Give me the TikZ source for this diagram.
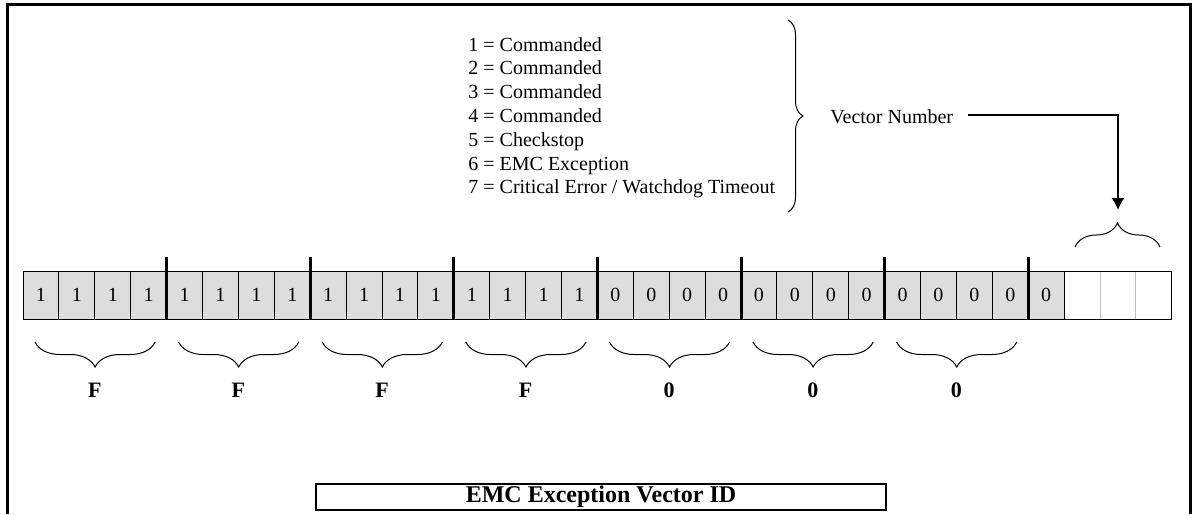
\documentclass[tikz,border=0pt]{standalone}
\usepackage{fontspec}
\setmainfont{Liberation Serif}
\usetikzlibrary{decorations.pathreplacing,arrows.meta}
\definecolor{cellgray}{RGB}{221,221,221}
\definecolor{divgray}{RGB}{190,190,190}
\begin{document}
\begin{tikzpicture}[x=0.5pt,y=-0.5pt,
  frame/.style={line width=1.5pt},
  txt/.style={font=\fontsize{10}{12}\selectfont, inner sep=0pt},
  brc/.style={decorate, line width=0.5pt},
  cell/.style={draw, line width=0.5pt, fill=cellgray, minimum width=17.95pt, minimum height=24pt, inner sep=0pt, outer sep=0pt, font=\fontsize{10}{12}\selectfont},
  ecell/.style={draw=divgray, line width=0.5pt, fill=white, minimum width=17.95pt, minimum height=24pt, inner sep=0pt, outer sep=0pt},
  sepline/.style={line width=1.5pt},
  lbl/.style={font=\fontsize{11}{13}\selectfont\bfseries, inner sep=0pt},
  arr/.style={line width=0.8pt, -{Latex[length=6pt,width=6.5pt]}},
  titlebox/.style={draw, line width=0.75pt, minimum width=285pt, minimum height=13pt, inner sep=0pt, font=\fontsize{12}{14}\selectfont\bfseries}
]
\useasboundingbox (0,0) rectangle (1197,514);
% outer frame (open at the bottom)
\draw[frame] (7,514) -- (7,4) -- (1190,4) -- (1190,514);

% vector code list
\foreach \t [count=\i] in {1 = Commanded, 2 = Commanded, 3 = Commanded, 4 = Commanded, 5 = Checkstop, 6 = EMC Exception, 7 = Critical Error / Watchdog Timeout}
  \node[txt, anchor=base west] (l\i) at (468, {27.2+23.8*\i}) {\t};

% right brace
\draw[brc, decoration={brace, amplitude=7.5pt}] (788,20) -- (788,212);

% Vector Number label and arrow
\node[txt, anchor=west] (vn) at (830,117) {Vector Number};
\coordinate (as) at (968,115);
\coordinate (tip) at (1118,210);
\draw[arr] (as) -| (tip);

% cells
\foreach \i in {0,...,15}
  \node[cell] (c\i) at ({23+35.9*(\i+0.5)},295) {1};
\foreach \i in {16,...,28}
  \node[cell] (c\i) at ({23+35.9*(\i+0.5)},295) {0};
\foreach \i in {29,30,31}
  \node[ecell] (c\i) at ({23+35.9*(\i+0.5)},295) {};
\draw[line width=0.5pt] (c29.north west) rectangle (c31.south east);

% thick nibble separators
\foreach \k in {4,8,...,28}
  \draw[sepline] ([yshift=7pt]c\k.north west) -- (c\k.south west);

% brace above the vector number bits
\draw[brc, decoration={brace, amplitude=12pt}] (1075,247) -- (1160,247);

% braces and hex labels below
\foreach \k/\lab in {0/F,1/F,2/F,3/F,4/0,5/0,6/0} {
  \draw[brc, decoration={brace, amplitude=12.5pt}]
    ({23+143.6*(\k+1)-11.4},342) -- ({23+143.6*\k+12},342);
  \node[lbl] (h\k) at ({23+143.6*(\k+0.5)},390) {\lab};
}

% title box
\node[titlebox] (title) at (601,497) {EMC Exception Vector ID};
\end{tikzpicture}
\end{document}
